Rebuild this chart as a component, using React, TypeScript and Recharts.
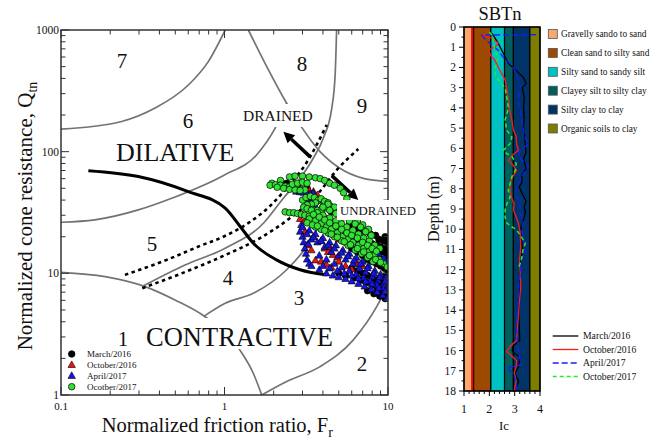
import React from "react";
import { ScatterChart, Scatter, XAxis, YAxis, ReferenceArea, ReferenceLine } from "recharts";

// ---------- left chart: Qtn - Fr classification ----------
const frTicks = [0.1, 0.2, 0.3, 0.4, 0.5, 0.6, 0.7, 0.8, 0.9, 1, 2, 3, 4, 5, 6, 7, 8, 9, 10];
const frMajor = [0.1, 1, 10];
const qTicks = [1, 2, 3, 4, 5, 6, 7, 8, 9, 10, 20, 30, 40, 50, 60, 70, 80, 90, 100, 200, 300, 400, 500, 600, 700, 800, 900, 1000];
const qMajor = [1, 10, 100, 1000];

// zone boundaries [Fr, Qtn]
const zone7Line = [[0.1, 153], [0.235, 177], [0.376, 228], [0.601, 353], [0.796, 550], [1.01, 1000]];
const zone8Line = [[1.4, 1000], [1.82, 496], [2.4, 250], [2.9, 166], [3.84, 100], [5.08, 73], [7.06, 60.4], [10, 57]];
const zone56Line = [[0.1, 26.3], [0.161, 27.5], [0.297, 33.2], [0.475, 41.4], [1.0, 64.4], [1.57, 94], [2.04, 156], [2.4, 250]];
const zone1Line = [[0.1, 10.2], [0.186, 9.4], [0.327, 7.78], [0.498, 6.04], [0.76, 4.4], [1.24, 2.35], [1.5, 1.51], [1.69, 1]];
const zone2Line = [[1.69, 1], [2.4, 1.29], [3.84, 1.71], [6.14, 2.84], [8.53, 5.32], [10, 8.04]];
const zone34Line = [[0.75, 4.45], [1.01, 5.68], [1.5, 6.85], [2.4, 10.7], [3.18, 16.6], [3.73, 23.6]];
const zone45Line = [[0.32, 7.9], [0.573, 11.7], [1.01, 16.1], [1.73, 25.8], [2.29, 41.4], [2.9, 60.4], [3.49, 88.3], [4.02, 129], [4.53, 228], [4.75, 427], [4.85, 1000]];
const upperDotted = [[0.246, 9.71], [0.443, 12.9], [0.708, 16.8], [0.984, 20.0], [1.43, 26.4], [1.9, 35.8], [2.52, 54.3], [3.11, 77.8], [4.22, 166]];
const lowerDotted = [[0.314, 7.55], [0.547, 10.0], [0.984, 13.9], [1.65, 19.5], [2.52, 28.5], [3.66, 44.0], [4.97, 73.1], [6.58, 105]];
const cdLine = [[0.147, 69.8], [0.297, 62.4], [0.601, 46.9], [1.01, 34.3], [1.24, 24.5], [1.5, 17.7], [2.08, 12.9], [2.9, 10.7], [4.22, 9.71]];
const drainedArrow = [[3.33, 91], [2.29, 146]];
const undrainedArrow = [[4.53, 63.5], [6.58, 40.1]];

// CPT points [Fr, Qtn]
const march2016 = [[6.0, 16], [6.5, 15], [7.0, 14], [7.5, 13], [8.0, 12.5], [8.5, 12], [9.0, 11.5], [9.5, 11], [10, 10.5], [7.0, 19], [7.5, 18], [8.0, 17.5], [8.5, 17], [9.0, 16.5], [9.5, 16], [10, 15.5], [8.8, 19], [9.4, 18.5], [9.9, 18], [9.6, 20], [9.9, 14.5], [9.4, 15], [6.0, 11], [6.5, 10.5], [7.0, 10], [7.5, 9.6], [8.0, 9.2], [8.5, 8.8], [9.0, 8.4], [9.5, 8.0], [10, 7.8], [5.0, 10], [5.5, 9.6], [6.2, 9.2], [6.8, 8.8], [7.4, 8.4], [8.0, 8.0], [8.6, 7.6], [9.2, 7.2], [9.8, 6.8], [10, 6.4], [5.0, 20], [5.5, 18], [6.0, 20], [6.5, 19], [4.2, 28], [4.6, 26], [4.0, 35], [4.5, 32], [3.2, 50], [2.8, 53], [2.4, 55], [3.6, 38], [5.8, 25], [6.6, 23], [7.2, 22], [7.8, 21], [8.4, 20.5], [7.5, 7.2], [8.2, 6.8], [8.9, 6.5], [9.6, 6.2],
  [9.2, 13], [9.7, 12.5], [8.7, 14], [10, 13], [10, 9], [9.5, 9.5]];
const october2016 = [[3.3, 48], [3.5, 47], [3.7, 44], [3.4, 40], [2.9, 28], [3.1, 27], [3.1, 22], [3.5, 20], [3.9, 18.5], [4.1, 16], [4.3, 15], [4.6, 14.2], [4.9, 13.5], [3.6, 12.8], [3.9, 12.5], [4.2, 11.8], [4.5, 11.2], [5.0, 12.5], [5.5, 11.5], [6.0, 10.8], [4.0, 23], [4.5, 21], [5.0, 19], [3.2, 17], [3.4, 15.5], [6.5, 12], [7.0, 11.5], [4.4, 16.5]];
const april2017 = [[2.75, 47], [2.9, 46.5], [3.05, 46], [3.2, 45.5], [3.35, 45], [3.5, 45.5], [3.3, 42], [3.5, 41], [3.75, 39.5], [3.2, 38], [3.6, 35.5],
  [2.9, 22], [3.0, 20], [3.05, 18], [3.1, 16], [3.15, 14.5], [3.2, 13], [3.3, 12], [3.4, 11.5], [3.8, 10.7], [2.95, 25], [3.25, 17.5],
  [3.0, 24], [3.3, 22.5], [3.6, 21], [4.0, 19.5], [4.4, 18], [4.8, 17], [5.3, 15.5], [5.8, 14.5], [6.4, 13.5], [7.0, 12.5], [7.6, 11.5], [8.3, 10.5], [9.0, 9.8], [9.7, 9.2],
  [3.4, 19], [3.7, 18], [4.1, 16.5], [4.5, 15], [5.0, 14], [5.5, 13], [6.1, 12], [6.7, 11], [7.3, 10.2], [8.0, 9.4], [8.7, 8.7], [9.4, 8.1], [10, 7.6],
  [4.2, 10], [4.6, 9.6], [5.0, 9.3], [5.5, 9.0], [6.0, 8.6], [6.6, 8.2], [7.2, 7.8], [7.9, 7.4], [8.6, 7.0], [9.3, 6.6], [9.9, 6.2],
  [3.8, 14], [4.2, 13], [4.7, 12], [5.2, 11.2], [5.8, 10.5], [6.4, 9.8], [7.1, 9.2], [7.8, 8.6], [8.6, 8.0], [9.4, 7.5],
  [4.5, 26], [5.0, 24], [5.5, 22], [6.1, 20], [6.7, 18.5], [7.3, 17], [8.0, 15.5], [8.7, 14.5], [9.4, 13.3], [9.9, 12.5],
  [3.2, 21], [3.5, 19.8], [3.9, 18.5], [4.3, 17], [4.7, 16], [5.2, 14.8], [5.7, 13.8], [6.2, 12.8], [6.8, 12], [7.5, 11], [8.2, 10], [8.9, 9.3], [9.6, 8.6],
  [4.0, 11.5], [4.4, 11], [4.9, 10.5], [5.4, 10], [6.0, 9.6], [6.6, 9.1], [7.3, 8.6], [8.0, 8.2], [8.8, 7.6], [9.6, 7.1]];
const october2017 = [[1.95, 55], [2.2, 58], [2.5, 62], [2.7, 63], [3.0, 63], [3.3, 62], [3.6, 61], [3.85, 60], [4.1, 58], [4.4, 55], [4.7, 53], [5.1, 50], [5.35, 46], [5.6, 41],
  [1.9, 53], [2.05, 53.5], [2.2, 53], [2.35, 52], [2.5, 51.5], [2.65, 51], [2.8, 50], [2.95, 49], [3.1, 48.5], [2.1, 51], [2.3, 50], [2.5, 49], [2.7, 48.5], [2.9, 48], [2.6, 54], [2.8, 55], [3.0, 56], [3.2, 55],
  [3.0, 40], [3.15, 42], [3.35, 43], [3.55, 42], [3.75, 40], [3.6, 38], [3.4, 37], [3.2, 36.5], [3.05, 35], [3.2, 34], [3.45, 33.5], [3.7, 33], [3.95, 33.5], [4.2, 34.5], [4.45, 35.5], [3.9, 41], [4.1, 39], [4.3, 38],
  [2.35, 32], [2.5, 31.5], [2.65, 31.5], [2.8, 31], [2.95, 30.5], [3.1, 30], [3.3, 29.5],
  [3.3, 28], [3.6, 27], [3.9, 25.5], [4.2, 24], [4.5, 23], [4.9, 21.5], [5.3, 20], [5.7, 19], [6.1, 18], [6.6, 17], [7.1, 16], [7.6, 15], [8.2, 14], [8.8, 13], [9.4, 12], [9.9, 11.3],
  [3.4, 33], [3.7, 31.5], [4.0, 30], [4.4, 28.5], [4.8, 27], [5.2, 25.5], [5.6, 24], [6.1, 22.5], [6.6, 21], [7.1, 19.5], [7.7, 18.5], [8.3, 17], [8.9, 16],
  [4.3, 37], [4.7, 35], [5.1, 33], [5.5, 31], [6.0, 29], [6.5, 27], [7.0, 25], [7.6, 23],
  [3.6, 24], [3.9, 23], [4.3, 21.5], [4.7, 20], [5.2, 18.5], [5.7, 17], [6.3, 15.5], [6.9, 14.5], [7.5, 13.5], [8.1, 12.5],
  [3.5, 30.5], [3.8, 29], [4.1, 27.5], [4.4, 26], [4.8, 24.5], [5.2, 23], [5.6, 21.5], [6.0, 20.5], [6.5, 19.5], [7.0, 18], [7.5, 17], [8.0, 16], [8.5, 15.2],
  [4.0, 35], [4.4, 33], [4.8, 31], [5.3, 29], [5.8, 27], [6.3, 25.5], [6.8, 24], [7.3, 22], [7.9, 20.5],
  [3.2, 26], [3.45, 25], [3.7, 24.5], [4.1, 22.5], [4.5, 21], [4.9, 19.8], [5.4, 18.2], [5.9, 17.2], [6.5, 16], [7.1, 15], [7.7, 14], [8.4, 13], [9.0, 12.3]];

// ---------- right chart: Ic profile ----------
const depthTicks = [0, 0.5, 1, 1.5, 2, 2.5, 3, 3.5, 4, 4.5, 5, 5.5, 6, 6.5, 7, 7.5, 8, 8.5, 9, 9.5, 10, 10.5, 11, 11.5, 12, 12.5, 13, 13.5, 14, 14.5, 15, 15.5, 16, 16.5, 17, 17.5, 18];
const icTicks = [1, 1.2, 1.4, 1.6, 1.8, 2, 2.2, 2.4, 2.6, 2.8, 3, 3.2, 3.4, 3.6, 3.8, 4];
const soilBands = [
  { from: 1, to: 1.38, color: "#fba86e", name: "Gravelly sando to sand" },
  { from: 1.38, to: 2.06, color: "#9c4a02", name: "Clean sand to silty sand" },
  { from: 2.06, to: 2.6, color: "#00c2c2", name: "Silty sand to sandy silt" },
  { from: 2.6, to: 2.95, color: "#005f5e", name: "Clayey silt to silty clay" },
  { from: 2.95, to: 3.6, color: "#003468", name: "Silty clay to clay" },
  { from: 3.6, to: 4, color: "#7d7d00", name: "Organic soils to clay" },
];
const redLimit = 1.32;

// [Ic, depth]
const icMarch2016 = [[2.1, 0.3], [2.2, 0.5], [2.35, 0.8], [2.55, 1.3], [2.75, 1.8], [3.1, 2.2], [3.35, 2.5], [3.45, 2.8], [3.3, 3.0], [3.38, 3.5], [3.35, 4.0], [3.38, 4.5], [3.35, 5.0], [3.4, 5.4], [3.42, 5.9], [3.45, 6.2], [3.35, 6.5], [3.45, 7.0], [3.3, 7.3], [3.28, 7.7], [3.18, 7.9], [3.3, 8.25], [3.45, 8.6], [3.38, 8.9], [3.42, 9.2], [3.35, 9.55], [3.25, 9.9], [3.25, 10.4], [3.3, 10.9], [3.25, 11.5], [3.2, 12.2], [3.22, 12.9], [3.18, 13.5], [3.16, 14.2], [3.18, 14.8], [3.2, 15.5], [2.95, 15.75], [2.9, 16.0], [3.0, 16.15], [3.2, 16.3], [3.15, 16.8], [3.0, 17.15], [3.15, 17.5], [3.1, 17.8]];
const icOctober2016 = [[1.66, 0.38], [2.1, 0.55], [2.35, 0.8], [2.3, 0.9], [1.98, 1.15], [2.05, 1.4], [2.22, 1.65], [2.42, 2.15], [2.62, 2.6], [2.69, 3.1], [2.75, 3.6], [2.8, 4.1], [2.89, 4.6], [2.95, 5.1], [3.06, 5.4], [3.08, 5.8], [3.15, 6.1], [2.9, 6.35], [2.75, 6.6], [2.95, 6.85], [3.08, 7.1], [2.92, 7.4], [2.82, 7.75], [2.82, 8.1], [2.86, 8.4], [2.98, 8.75], [2.95, 9.05], [3.06, 9.4], [3.15, 9.7], [3.22, 10.2], [3.24, 10.9], [3.19, 11.5], [3.22, 12.2], [3.24, 12.9], [3.19, 13.5], [3.15, 14.2], [3.11, 14.8], [3.08, 15.5], [2.82, 15.8], [2.69, 16.05], [2.82, 16.2], [3.08, 16.5], [3.06, 16.8], [2.98, 17.1], [3.06, 17.5], [2.98, 18.0]];
const icApril2017 = [[3.85, 0.38], [1.7, 0.4], [1.82, 0.58], [2.02, 0.82], [2.35, 1.15], [2.55, 1.5], [2.82, 1.8], [3.02, 2.15], [3.15, 2.6], [3.22, 2.95], [3.15, 3.6], [3.22, 4.1], [3.28, 4.6], [3.35, 5.1], [3.42, 5.5], [3.55, 5.77], [3.22, 6.1], [3.15, 6.4], [3.42, 6.75], [3.55, 6.9], [3.35, 7.25], [3.22, 7.6], [3.08, 7.9], [3.06, 8.25], [3.15, 8.57], [3.22, 8.9], [3.22, 9.23], [3.35, 9.56], [3.28, 10.05], [3.35, 10.55], [3.42, 11.05], [3.28, 11.5], [3.22, 12.2], [3.15, 12.85], [3.15, 13.5], [3.11, 14.2], [3.06, 14.8], [3.11, 15.5], [3.15, 16.0], [3.22, 16.5], [3.28, 16.7], [2.69, 16.85], [2.95, 17.15], [3.08, 17.65], [3.06, 18.0]];
const icOctober2017 = [[2.0, 0.25], [2.1, 0.4], [2.16, 0.66], [2.22, 1.15], [2.35, 1.5], [2.28, 1.8], [2.22, 2.1], [2.25, 2.4], [2.4, 2.7], [2.62, 3.0], [2.69, 3.5], [2.75, 4.0], [2.69, 4.3], [2.62, 4.6], [2.69, 5.1], [2.89, 5.45], [2.82, 5.77], [2.55, 6.1], [2.69, 6.26], [2.89, 6.4], [3.06, 6.76], [3.02, 7.1], [2.89, 7.4], [2.82, 7.75], [2.75, 8.1], [2.82, 8.4], [2.69, 8.75], [2.62, 9.05], [2.62, 9.4], [2.69, 9.7], [3.08, 10.05], [3.28, 10.4], [3.42, 10.7], [3.32, 11.05], [3.28, 11.4], [3.22, 11.7], [3.15, 11.9]];

const pts = (a: number[][]) => a.map(([x, y]) => ({ x, y }));

// plot box of the left chart (page px)
const L = { x0: 61, x1: 388, y0: 30, y1: 395 };
// right chart placed at page x 418
const RX = 418;
const R = { x0: 464, x1: 540, y0: 27, y1: 391 };
const AX = 30; // room kept for the axes
const serif = '"Liberation Serif", "Times New Roman", serif';
const txt = { fontFamily: serif };

const NoDot = () => <g />;

const circle = (fill: string) => (p: any) => (
  <circle cx={p.cx} cy={p.cy} r={3.3} fill={fill} stroke="#000" strokeWidth={0.7} />
);
const triangle = (fill: string) => (p: any) => (
  <polygon
    points={`${p.cx},${p.cy - 4} ${p.cx - 3.7},${p.cy + 2.6} ${p.cx + 3.7},${p.cy + 2.6}`}
    fill={fill}
    stroke="#000"
    strokeWidth={0.6}
  />
);

function Arrow(p: any) {
  const { x1, y1, x2, y2 } = p;
  const dx = x2 - x1;
  const dy = y2 - y1;
  const len = Math.hypot(dx, dy) || 1;
  const ux = dx / len;
  const uy = dy / len;
  const bx = x2 - ux * 11;
  const by = y2 - uy * 11;
  return (
    <g>
      <line x1={x1} y1={y1} x2={bx} y2={by} stroke="#000" strokeWidth={3.5} />
      <polygon points={`${x2},${y2} ${bx - uy * 5.5},${by + ux * 5.5} ${bx + uy * 5.5},${by - ux * 5.5}`} fill="#000" />
    </g>
  );
}

function FrTick(p: any) {
  const x = p.x;
  const v = p.payload.value;
  const major = frMajor.includes(v);
  const len = major ? 8 : 4.5;
  return (
    <g>
      <line x1={x} x2={x} y1={L.y1} y2={L.y1 - len} stroke="#333" strokeWidth={1} />
      <line x1={x} x2={x} y1={L.y0} y2={L.y0 + len} stroke="#333" strokeWidth={1} />
      {major && (
        <text x={x} y={L.y1 + 15} textAnchor="middle" fontSize={11} style={txt} fill="#111">
          {String(v)}
        </text>
      )}
    </g>
  );
}

function QTick(p: any) {
  const y = p.y;
  const v = p.payload.value;
  const major = qMajor.includes(v);
  const len = major ? 8 : 4.5;
  return (
    <g>
      <line x1={L.x0} x2={L.x0 + len} y1={y} y2={y} stroke="#333" strokeWidth={1} />
      <line x1={L.x1} x2={L.x1 - len} y1={y} y2={y} stroke="#333" strokeWidth={1} />
      {major && (
        <text x={L.x0 - 2} y={y + 4} textAnchor="end" fontSize={11.5} style={txt} fill="#111">
          {String(v)}
        </text>
      )}
    </g>
  );
}

function DepthTick(p: any) {
  const y = p.y;
  const v = p.payload.value;
  const major = Number.isInteger(v);
  const x0 = R.x0 - RX;
  return (
    <g>
      <line x1={x0} x2={x0 - (major ? 5 : 2.5)} y1={y} y2={y} stroke="#000" strokeWidth={1} />
      {major && (
        <text x={x0 - 8} y={y + 4} textAnchor="end" fontSize={11.5} style={txt} fill="#111">
          {String(v)}
        </text>
      )}
    </g>
  );
}

function IcTick(p: any) {
  const x = p.x;
  const v = p.payload.value;
  const major = Number.isInteger(v);
  return (
    <g>
      <line x1={x} x2={x} y1={R.y1} y2={R.y1 + (major ? 5 : 3)} stroke="#000" strokeWidth={1} />
      {major && (
        <text x={x} y={R.y1 + 22} textAnchor="middle" fontSize={12} style={txt} fill="#111">
          {String(v)}
        </text>
      )}
    </g>
  );
}

const grayLine = { stroke: "#737373", strokeWidth: 1.7 };
const dottedLine = { stroke: "#000", strokeWidth: 2.6, strokeDasharray: "3.5 3.5" };

const zoneLines = [zone7Line, zone8Line, zone56Line, zone1Line, zone2Line, zone34Line, zone45Line];

const zoneNumbers = [
  { t: "7", x: 122, y: 60 }, { t: "8", x: 302, y: 63 }, { t: "9", x: 362, y: 105 },
  { t: "6", x: 188, y: 120 }, { t: "5", x: 152, y: 243 }, { t: "4", x: 228, y: 277 },
  { t: "3", x: 299, y: 297 }, { t: "1", x: 123, y: 338 }, { t: "2", x: 362, y: 363 },
];

const cptLegend = [
  { name: "March/2016", kind: "c", fill: "#000" },
  { name: "October/2016", kind: "t", fill: "#ee1111" },
  { name: "April/2017", kind: "t", fill: "#1515e6" },
  { name: "Ocotber/2017", kind: "c", fill: "#33e033" },
];

const icLegend = [
  { name: "March/2016", color: "#000", dash: undefined },
  { name: "October/2016", color: "#ff1a1a", dash: undefined },
  { name: "April/2017", color: "#1a1aff", dash: "6 3" },
  { name: "October/2017", color: "#22ee22", dash: "4 3" },
];

export default function App() {
  return (
    <div style={{ position: "absolute", left: 0, top: 0, width: 657, height: 439, background: "#fff", overflow: "hidden" }}>
      <div style={{ position: "absolute", left: 0, top: 0 }}>
        <ScatterChart width={RX} height={439} margin={{ top: L.y0, left: L.x0 - AX, right: RX - L.x1, bottom: 439 - L.y1 - AX }}>
          <XAxis type="number" dataKey="x" scale="log" domain={[0.1, 10]} allowDataOverflow ticks={frTicks} interval={0}
            height={AX} tickSize={0} tickMargin={0} axisLine={false} tickLine={false} tick={(p: any) => <FrTick {...p} />} />
          <YAxis type="number" dataKey="y" scale="log" domain={[1, 1000]} allowDataOverflow ticks={qTicks} interval={0}
            width={AX} tickSize={0} tickMargin={0} axisLine={false} tickLine={false} tick={(p: any) => <QTick {...p} />} />
          {zoneLines.map((z, i) => (
            <Scatter key={"z" + i} data={pts(z)} fill="none" line={grayLine} lineJointType="monotoneX" shape={NoDot} isAnimationActive={false} />
          ))}
          <Scatter data={pts(upperDotted)} fill="none" line={dottedLine} lineJointType="monotoneX" shape={NoDot} isAnimationActive={false} />
          <Scatter data={pts(lowerDotted)} fill="none" line={dottedLine} lineJointType="monotoneX" shape={NoDot} isAnimationActive={false} />
          <Scatter data={pts(cdLine)} fill="none" line={{ stroke: "#000", strokeWidth: 3 }} lineJointType="monotoneX" shape={NoDot} isAnimationActive={false} />
          <ReferenceLine segment={pts(drainedArrow)} shape={(p: any) => <Arrow {...p} />} />
          <ReferenceLine segment={pts(undrainedArrow)} shape={(p: any) => <Arrow {...p} />} />
          <Scatter name="March/2016" data={pts(march2016)} shape={circle("#000")} isAnimationActive={false} />
          <Scatter name="October/2016" data={pts(october2016)} shape={triangle("#ee1111")} isAnimationActive={false} />
          <Scatter name="April/2017" data={pts(april2017)} shape={triangle("#1515e6")} isAnimationActive={false} />
          <Scatter name="Ocotber/2017" data={pts(october2017)} shape={circle("#33e033")} isAnimationActive={false} />
        </ScatterChart>
      </div>

      <svg width={RX} height={439} style={{ position: "absolute", left: 0, top: 0, pointerEvents: "none", fontFamily: serif }}>
        <rect x={L.x0} y={L.y0} width={L.x1 - L.x0} height={L.y1 - L.y0} fill="none" stroke="#333" strokeWidth={1.5} />
        {zoneNumbers.map((z) => (
          <text key={z.t} x={z.x} y={z.y + 7.5} textAnchor="middle" fontSize={21} style={txt} fill="#111">{z.t}</text>
        ))}
        <rect x={86} y={138} width={158} height={25} fill="#fff" />
        <text x={116} y={161} fontSize={26} style={txt} fill="#111">DILATIVE</text>
        <rect x={140} y={318} width={198} height={31} fill="#fff" />
        <text x={146} y={345.5} fontSize={26.5} style={txt} fill="#111">CONTRACTIVE</text>
        <rect x={238} y={104} width={80} height={23} fill="#fff" />
        <text x={243} y={121} fontSize={15.5} style={txt} fill="#111">DRAINED</text>
        <rect x={337} y={200} width={82} height={20} fill="#fff" />
        <text x={340} y={214.5} fontSize={12.8} style={txt} fill="#111">UNDRAINED</text>
        {cptLegend.map((l, i) => {
          const cy = 354 + i * 10.9;
          return (
            <g key={l.name}>
              {l.kind === "c" ? (
                <circle cx={71.7} cy={cy} r={3.3} fill={l.fill} stroke="#000" strokeWidth={0.7} />
              ) : (
                <polygon points={`71.7,${cy - 4} 68,${cy + 2.6} 75.4,${cy + 2.6}`} fill={l.fill} stroke="#000" strokeWidth={0.6} />
              )}
              <text x={87} y={cy + 3} fontSize={9} style={txt} fill="#111">{l.name}</text>
            </g>
          );
        })}
        <text x={101.7} y={432} fontSize={20.5} style={txt} fill="#111">
          Normalized friction ratio, F<tspan dy={5} fontSize={14}>r</tspan>
        </text>
        <text transform="translate(31.5,216) rotate(-90)" textAnchor="middle" fontSize={21} style={txt} fill="#111">
          Normalized cone resistance, Q<tspan dy={5} fontSize={14}>tn</tspan>
        </text>
      </svg>

      <div style={{ position: "absolute", left: RX, top: 0, background: "#fff" }}>
        <ScatterChart width={657 - RX} height={439} margin={{ top: R.y0, left: R.x0 - RX - AX, right: 657 - R.x1, bottom: 439 - R.y1 - AX }}>
          <XAxis type="number" dataKey="x" domain={[1, 4]} allowDataOverflow ticks={icTicks} interval={0}
            height={AX} tickSize={0} tickMargin={0} axisLine={false} tickLine={false} tick={(p: any) => <IcTick {...p} />} />
          <YAxis type="number" dataKey="y" domain={[0, 18]} reversed allowDataOverflow ticks={depthTicks} interval={0}
            width={AX} tickSize={0} tickMargin={0} axisLine={false} tickLine={false} tick={(p: any) => <DepthTick {...p} />} />
          {soilBands.map((b) => (
            <ReferenceArea key={b.name} x1={b.from} x2={b.to} y1={0} y2={18} fill={b.color} fillOpacity={1} stroke="#000" strokeWidth={1.2} />
          ))}
          <ReferenceLine x={redLimit} stroke="#ff0000" strokeWidth={2} />
          <Scatter data={pts(icMarch2016)} fill="none" line={{ stroke: "#000", strokeWidth: 1.3 }} shape={NoDot} isAnimationActive={false} />
          <Scatter data={pts(icOctober2016)} fill="none" line={{ stroke: "#ff1a1a", strokeWidth: 1.3 }} shape={NoDot} isAnimationActive={false} />
          <Scatter data={pts(icApril2017)} fill="none" line={{ stroke: "#1a1aff", strokeWidth: 1.3, strokeDasharray: "6 3" }} shape={NoDot} isAnimationActive={false} />
          <Scatter data={pts(icOctober2017)} fill="none" line={{ stroke: "#22ee22", strokeWidth: 1.5, strokeDasharray: "4 3" }} shape={NoDot} isAnimationActive={false} />
        </ScatterChart>
      </div>

      <svg width={657 - RX} height={439} viewBox={`${RX} 0 ${657 - RX} 439`} style={{ position: "absolute", left: RX, top: 0, pointerEvents: "none", fontFamily: serif }}>
        <rect x={R.x0} y={R.y0} width={R.x1 - R.x0} height={R.y1 - R.y0} fill="none" stroke="#000" strokeWidth={1.3} />
        <text x={500} y={20} textAnchor="middle" fontSize={18.5} style={txt} fill="#111">SBTn</text>
        <text x={504} y={430} textAnchor="middle" fontSize={13} style={txt} fill="#111">Ic</text>
        <text transform="translate(439,209) rotate(-90)" textAnchor="middle" fontSize={16} style={txt} fill="#111">Depth (m)</text>
        {soilBands.map((b, i) => {
          const cy = 34 + i * 18.9;
          return (
            <g key={b.name}>
              <rect x={548.3} y={cy - 4.5} width={9} height={9} fill={b.color} stroke="#555" strokeWidth={0.8} />
              <text x={561} y={cy + 3.3} fontSize={9.3} style={txt} fill="#111">{b.name}</text>
            </g>
          );
        })}
        {icLegend.map((l, i) => {
          const cy = 336 + i * 13.5;
          return (
            <g key={l.name}>
              <line x1={552.7} x2={578.3} y1={cy} y2={cy} stroke={l.color} strokeWidth={1.3} strokeDasharray={l.dash} />
              <text x={583} y={cy + 3.3} fontSize={9.7} style={txt} fill="#111">{l.name}</text>
            </g>
          );
        })}
      </svg>
    </div>
  );
}
